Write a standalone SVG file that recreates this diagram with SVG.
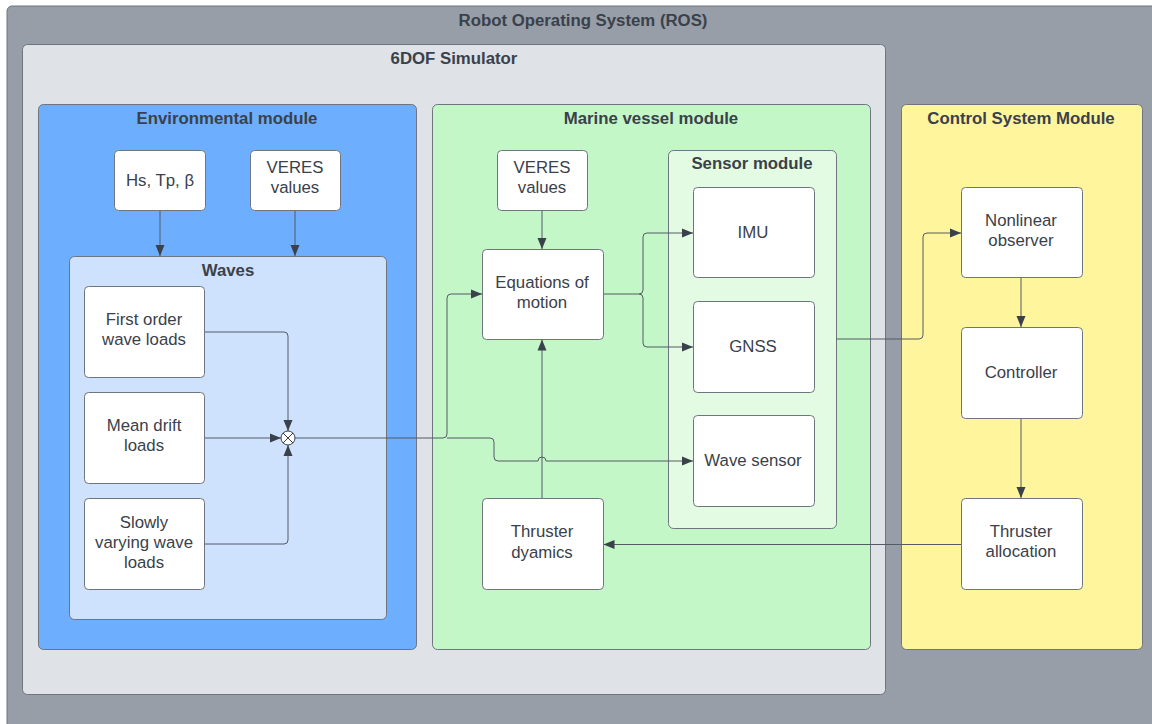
<svg xmlns="http://www.w3.org/2000/svg" width="1152" height="724" viewBox="0 0 1152 724">
  <style>
    .frame { stroke: #6f757e; stroke-width: 1; }
    .box { fill: #ffffff; stroke: #6f757e; stroke-width: 1; }
    .title { font-family: "Liberation Sans", Arial, sans-serif; font-size: 16.8px; font-weight: bold; fill: #3a414a; text-anchor: middle; }
    .lbl { font-family: "Liberation Sans", Arial, sans-serif; font-size: 16.8px; fill: #3a414a; text-anchor: middle; }
    .wire { fill: none; stroke: #555b64; stroke-width: 1; }
  </style>
  <defs>
    <marker id="arrow" markerUnits="userSpaceOnUse" markerWidth="12" markerHeight="10" refX="11" refY="5" orient="auto">
      <path d="M0,0.5 L11,5 L0,9.5 z" fill="#3a414a"/>
    </marker>
  </defs>

  <!-- containers -->
  <g id="ros">
    <rect x="7" y="6" width="1160" height="730" rx="5" fill="#979ea8" class="frame"/>
    <text class="title" x="583" y="26">Robot Operating System (ROS)</text>
  </g>
  <g id="simulator">
    <rect x="22.5" y="44.5" width="863" height="650" rx="5" fill="#dfe2e6" class="frame"/>
    <text class="title" x="454" y="64">6DOF Simulator</text>
  </g>
  <g id="environmental-module">
    <rect x="38.5" y="104.5" width="378" height="545" rx="5" fill="#6daefe" class="frame"/>
    <text class="title" x="227" y="124">Environmental module</text>
  </g>
  <g id="waves">
    <rect x="69.5" y="256.5" width="317" height="363" rx="5" fill="#cfe2fd" class="frame"/>
    <text class="title" x="228" y="276">Waves</text>
  </g>
  <g id="marine-vessel-module">
    <rect x="432.5" y="104.5" width="438" height="545" rx="5" fill="#c3f7c8" class="frame"/>
    <text class="title" x="651" y="124">Marine vessel module</text>
  </g>
  <g id="sensor-module">
    <rect x="668.5" y="150.5" width="168" height="378" rx="5" fill="#e3fbe3" class="frame"/>
    <text class="title" x="752" y="169">Sensor module</text>
  </g>
  <g id="control-system-module">
    <rect x="901.5" y="104.5" width="241" height="545" rx="5" fill="#fff59d" class="frame"/>
    <text class="title" x="1021" y="124">Control System Module</text>
  </g>

  <!-- connectors -->
  <g id="connectors">
    <path class="wire" d="M160,210.5 V256" marker-end="url(#arrow)"/>
    <path class="wire" d="M295,210.5 V256" marker-end="url(#arrow)"/>
    <path class="wire" d="M204.5,332 H284 Q288,332 288,336 V431" marker-end="url(#arrow)"/>
    <path class="wire" d="M204.5,438 H281" marker-end="url(#arrow)"/>
    <path class="wire" d="M204.5,544 H284 Q288,544 288,540 V445" marker-end="url(#arrow)"/>
    <path class="wire" d="M295,438 H443 Q447,438 447,434 V298 Q447,294 451,294 H482" marker-end="url(#arrow)"/>
    <path class="wire" d="M447,438 H490 Q494,438 494,442 V457 Q494,461 498,461 H538 A4,4 0 0 1 546,461 H693" marker-end="url(#arrow)"/>
    <path class="wire" d="M542,210.5 V249" marker-end="url(#arrow)"/>
    <path class="wire" d="M542,498 V339.5" marker-end="url(#arrow)"/>
    <path class="wire" d="M603.5,294 H639 Q643,294 643,290 V237 Q643,233 647,233 H693" marker-end="url(#arrow)"/>
    <path class="wire" d="M639,294 Q643,294 643,298 V343 Q643,347 647,347 H693" marker-end="url(#arrow)"/>
    <path class="wire" d="M836.5,339 H919 Q923,339 923,335 V237 Q923,233 927,233 H961" marker-end="url(#arrow)"/>
    <path class="wire" d="M1021,277.5 V327" marker-end="url(#arrow)"/>
    <path class="wire" d="M1021,418.5 V498" marker-end="url(#arrow)"/>
    <path class="wire" d="M961,544.5 H603.5" marker-end="url(#arrow)"/>
  </g>

  <!-- summing junction -->
  <g id="sum">
    <circle cx="288" cy="438" r="7" fill="#ffffff" stroke="#3a414a" stroke-width="1"/>
    <path d="M283,433 L293,443 M293,433 L283,443" stroke="#3a414a" stroke-width="1"/>
  </g>

  <!-- nodes -->
  <g id="wave-params">
    <rect class="box" x="114.5" y="150.5" width="91" height="60" rx="4"/>
    <text class="lbl" x="160" y="186">Hs, Tp, β</text>
  </g>
  <g id="veres-env">
    <rect class="box" x="250.5" y="150.5" width="90" height="60" rx="4"/>
    <text class="lbl" x="295" y="173">VERES</text>
    <text class="lbl" x="295" y="193">values</text>
  </g>
  <g id="first-order">
    <rect class="box" x="84.5" y="286.5" width="120" height="91" rx="4"/>
    <text class="lbl" x="144" y="325">First order</text>
    <text class="lbl" x="144" y="345">wave loads</text>
  </g>
  <g id="mean-drift">
    <rect class="box" x="84.5" y="392.5" width="120" height="91" rx="4"/>
    <text class="lbl" x="144" y="431">Mean drift</text>
    <text class="lbl" x="144" y="451">loads</text>
  </g>
  <g id="slowly-varying">
    <rect class="box" x="84.5" y="498.5" width="120" height="91" rx="4"/>
    <text class="lbl" x="144" y="528">Slowly</text>
    <text class="lbl" x="144" y="548">varying wave</text>
    <text class="lbl" x="144" y="568">loads</text>
  </g>
  <g id="veres-vessel">
    <rect class="box" x="497.5" y="150.5" width="90" height="60" rx="4"/>
    <text class="lbl" x="542" y="173">VERES</text>
    <text class="lbl" x="542" y="193">values</text>
  </g>
  <g id="equations-of-motion">
    <rect class="box" x="482.5" y="249.5" width="121" height="90" rx="4"/>
    <text class="lbl" x="542" y="288">Equations of</text>
    <text class="lbl" x="542" y="308">motion</text>
  </g>
  <g id="thruster-dynamics">
    <rect class="box" x="482.5" y="498.5" width="121" height="91" rx="4"/>
    <text class="lbl" x="542" y="537">Thruster</text>
    <text class="lbl" x="542" y="558">dyamics</text>
  </g>
  <g id="imu">
    <rect class="box" x="693.5" y="187.5" width="121" height="90" rx="4"/>
    <text class="lbl" x="753" y="238">IMU</text>
  </g>
  <g id="gnss">
    <rect class="box" x="693.5" y="301.5" width="121" height="91" rx="4"/>
    <text class="lbl" x="753" y="352">GNSS</text>
  </g>
  <g id="wave-sensor">
    <rect class="box" x="693.5" y="415.5" width="121" height="91" rx="4"/>
    <text class="lbl" x="753" y="466">Wave sensor</text>
  </g>
  <g id="nonlinear-observer">
    <rect class="box" x="961.5" y="187.5" width="121" height="90" rx="4"/>
    <text class="lbl" x="1021" y="226">Nonlinear</text>
    <text class="lbl" x="1021" y="246">observer</text>
  </g>
  <g id="controller">
    <rect class="box" x="961.5" y="327.5" width="121" height="91" rx="4"/>
    <text class="lbl" x="1021" y="378">Controller</text>
  </g>
  <g id="thruster-allocation">
    <rect class="box" x="961.5" y="498.5" width="121" height="91" rx="4"/>
    <text class="lbl" x="1021" y="537">Thruster</text>
    <text class="lbl" x="1021" y="557">allocation</text>
  </g>
</svg>
